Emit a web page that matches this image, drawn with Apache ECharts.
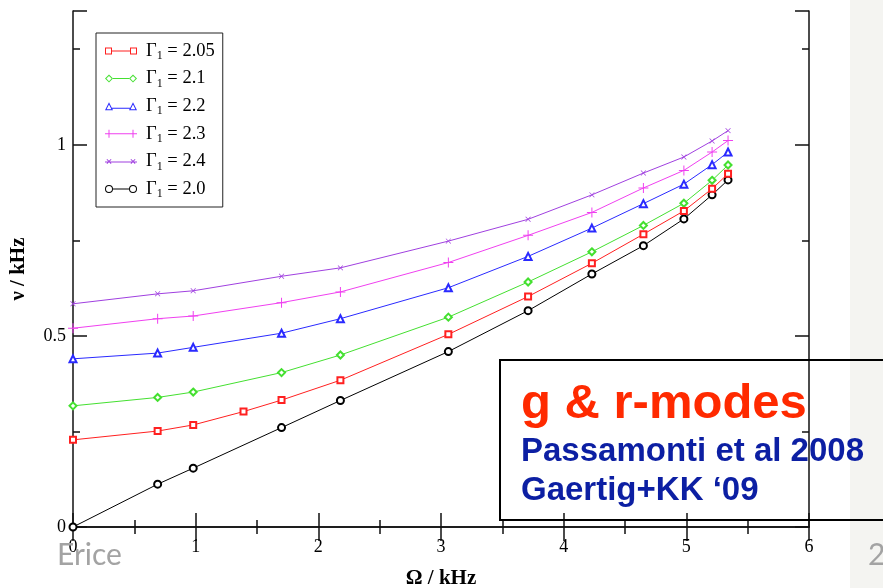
<!DOCTYPE html>
<html><head><meta charset="utf-8">
<script src="https://cdn.jsdelivr.net/npm/echarts@6/dist/echarts.min.js"></script>
<style>html,body{margin:0;padding:0;background:#fff}#c{width:883px;height:588px}</style>
</head><body><div id="c"></div>
<script>
// ---- data ----
const gammaLabels = ['2.05', '2.1', '2.2', '2.3', '2.4', '2.0'];
const omegaMain = [0, 0.69, 0.98, 1.70, 2.18, 3.06, 3.71, 4.23, 4.65, 4.98, 5.21, 5.34];
const omegaRed  = [0, 0.69, 0.98, 1.39, 1.70, 2.18, 3.06, 3.71, 4.23, 4.65, 4.98, 5.21, 5.34];
const nu205 = [0.228, 0.251, 0.267, 0.302, 0.332, 0.384, 0.504, 0.603, 0.690, 0.766, 0.827, 0.885, 0.924];
const nu21  = [0.317, 0.339, 0.353, 0.404, 0.450, 0.549, 0.641, 0.720, 0.789, 0.847, 0.907, 0.947];
const nu22  = [0.440, 0.455, 0.470, 0.507, 0.545, 0.626, 0.708, 0.782, 0.846, 0.897, 0.948, 0.981];
const nu23  = [0.520, 0.545, 0.552, 0.587, 0.615, 0.692, 0.763, 0.823, 0.887, 0.933, 0.981, 1.011];
const nu24  = [0.584, 0.610, 0.618, 0.656, 0.678, 0.748, 0.805, 0.869, 0.926, 0.968, 1.010, 1.037];
const nu20  = [0, 0.112, 0.154, 0.260, 0.331, 0.459, 0.566, 0.662, 0.736, 0.806, 0.869, 0.908];
const xTicks = [0, 1, 2, 3, 4, 5, 6];
const yTickLabels = [0, 0.5, 1];

// ---- styles ----
const colors = ['#ff2020', '#44e030', '#2a2aff', '#f040f0', '#a040e0', '#000000'];
const plusPath = 'path://M0,4.5H10V5.5H0Z M4.5,0H5.5V10H4.5Z';
const seriesSymbols = ['emptyRect', 'emptyDiamond', 'emptyTriangle', plusPath, plusPath, 'emptyCircle'];
const symbolSizes = [6, 7, 7, 10, 7, 7];
const symbolRot = [0, 0, 0, 0, 45, 0];
const legendIcons = [
  'path://M0,0H7V7H0Z M1,1V6H6V1Z M7,3H25V4H7Z M25,0H32V7H25Z M26,1V6H31V1Z',
  'path://M4,0L8,4L4,8L0,4Z M4,1.4L1.4,4L4,6.6L6.6,4Z M8,3.5H24V4.5H8Z M28,0L32,4L28,8L24,4Z M28,1.4L25.4,4L28,6.6L30.6,4Z',
  'path://M4,0L8,8L0,8Z M4,2.3L1.6,7L6.4,7Z M6,5.5H26V6.5H6Z M28,0L32,8L24,8Z M28,2.3L25.6,7L30.4,7Z',
  'path://M0,3.5H32V4.5H0Z M3.5,0H4.5V8H3.5Z M27.5,0H28.5V8H27.5Z',
  'path://M0,3.5H32V4.5H0Z M1.5,1.5L2.2,0.8L6.5,5.1L5.8,5.8Z M5.8,0.8L6.5,1.5L2.2,5.8L1.5,5.1Z M25.5,1.5L26.2,0.8L30.5,5.1L29.8,5.8Z M29.8,0.8L30.5,1.5L26.2,5.8L25.5,5.1Z',
  'path://M0,4A4,4 0 1,1 8,4A4,4 0 1,1 0,4Z M1,4A3,3 0 1,0 7,4A3,3 0 1,0 1,4Z M8,3.5H24V4.5H8Z M24,4A4,4 0 1,1 32,4A4,4 0 1,1 24,4Z M25,4A3,3 0 1,0 31,4A3,3 0 1,0 25,4Z'
];

const xsets = [omegaRed, omegaMain, omegaMain, omegaMain, omegaMain, omegaMain];
const ysets = [nu205, nu21, nu22, nu23, nu24, nu20];
const names = gammaLabels.map(g => 'Γ1 = ' + g);

const serif = '"Liberation Serif", "DejaVu Serif", serif';

const series = names.map((n, i) => ({
  name: n,
  type: 'line',
  xAxisIndex: 0, yAxisIndex: 0,
  data: xsets[i].map((x, k) => [x, ysets[i][k]]),
  symbol: seriesSymbols[i],
  symbolSize: symbolSizes[i],
  symbolRotate: symbolRot[i],
  showAllSymbol: true,
  lineStyle: { color: colors[i], width: 1 },
  itemStyle: { color: colors[i], borderColor: colors[i], borderWidth: (i === 3 || i === 4) ? 0 : 1 },
  emphasis: { disabled: true },
  animation: false,
  z: 10 - i
}));

const axisLineStyle = { color: '#111', width: 1.5 };

const option = {
  animation: false,
  backgroundColor: '#fff',
  grid: { left: 73, top: 11, right: 74, bottom: 61, containLabel: false, outerBoundsMode: 'none' },
  legend: {
    orient: 'vertical', left: 96, top: 33,
    data: names.map((n, i) => ({ name: n, icon: legendIcons[i] })),
    itemWidth: 32, itemHeight: 8, itemGap: 5.6,
    padding: [7, 8, 7, 9],
    borderColor: '#222', borderWidth: 1,
    selectedMode: false,
    itemStyle: { borderWidth: 0 },
    formatter: n => n.replace('Γ1', 'Γ{sub|1}'),
    textStyle: {
      fontFamily: serif, fontSize: 18.5, color: '#000', lineHeight: 22, padding: [0, 0, 0, 4],
      rich: { sub: { fontFamily: serif, fontSize: 12, color: '#000', lineHeight: 11, verticalAlign: 'bottom' } }
    }
  },
  xAxis: [
    {
      type: 'value', min: 0, max: 6, interval: 1, position: 'bottom',
      name: 'Ω / kHz', nameLocation: 'middle', nameGap: 41,
      nameTextStyle: { fontFamily: serif, fontSize: 21, fontWeight: 'bold', color: '#000' },
      axisLine: { show: true, lineStyle: axisLineStyle },
      axisTick: { show: true, inside: true, length: 14, lineStyle: { color: '#111', width: 1.5 } },
      minorTick: { show: true, splitNumber: 2, length: 7, lineStyle: { color: '#111', width: 1.5 } },
      axisLabel: { fontFamily: serif, fontSize: 18, color: '#000', margin: 11,
        formatter: v => xTicks.includes(v) ? String(v) : '' },
      splitLine: { show: false }
    },
    {
      type: 'value', min: 0, max: 6, interval: 1, position: 'top',
      axisLine: { show: true, lineStyle: axisLineStyle },
      axisTick: { show: true, inside: true, length: 14, lineStyle: { color: '#111', width: 1.5 } },
      minorTick: { show: true, splitNumber: 2, length: 7, lineStyle: { color: '#111', width: 1.5 } },
      axisLabel: { show: false },
      splitLine: { show: false }
    }
  ],
  yAxis: [
    {
      type: 'value', min: 0, max: 1.35, interval: 0.5, position: 'left',
      name: 'ν / kHz', nameLocation: 'middle', nameGap: 44, nameRotate: 90,
      nameTextStyle: { fontFamily: serif, fontSize: 21, fontWeight: 'bold', color: '#000' },
      axisLine: { show: true, lineStyle: axisLineStyle },
      axisTick: { show: true, inside: true, length: 14, lineStyle: { color: '#111', width: 1.5 } },
      axisLabel: { fontFamily: serif, fontSize: 18, color: '#000', margin: 7,
        formatter: v => yTickLabels.includes(Math.round(v * 100) / 100) ? String(Math.round(v * 100) / 100) : '' },
      splitLine: { show: false }
    },
    {
      type: 'value', min: 0, max: 1.35, interval: 0.25, position: 'left',
      axisLine: { show: false },
      axisTick: { show: true, inside: true, length: 7, lineStyle: { color: '#111', width: 1.5 } },
      axisLabel: { show: false },
      splitLine: { show: false }
    },
    {
      type: 'value', min: 0, max: 1.35, interval: 0.5, position: 'right',
      axisLine: { show: true, lineStyle: axisLineStyle },
      axisTick: { show: true, inside: true, length: 14, lineStyle: { color: '#111', width: 1.5 } },
      axisLabel: { show: false },
      splitLine: { show: false }
    },
    {
      type: 'value', min: 0, max: 1.35, interval: 0.25, position: 'right',
      axisLine: { show: false },
      axisTick: { show: true, inside: true, length: 7, lineStyle: { color: '#111', width: 1.5 } },
      axisLabel: { show: false },
      splitLine: { show: false }
    }
  ],
  series: series,
  graphic: [
    { type: 'rect', shape: { x: 850, y: 0, width: 40, height: 588 }, style: { fill: '#f4f4f1' }, z: 1 },
    { type: 'rect', shape: { x: 500, y: 360, width: 400, height: 160 }, style: { fill: 'none', stroke: '#000', lineWidth: 2 }, z: 50 },
    { type: 'text', x: 521, y: 404, z: 60, style: { text: 'g & r-modes', font: 'bold 49px "Liberation Sans", Arial, sans-serif', fill: '#ff2a00', textVerticalAlign: 'middle' } },
    { type: 'text', x: 521, y: 452, z: 60, style: { text: 'Passamonti et al 2008', font: 'bold 33px "Liberation Sans", Arial, sans-serif', fill: '#0c1fa3', textVerticalAlign: 'middle' } },
    { type: 'text', x: 521, y: 491, z: 60, style: { text: 'Gaertig+KK ‘09', font: 'bold 33px "Liberation Sans", Arial, sans-serif', fill: '#0c1fa3', textVerticalAlign: 'middle' } },
    { type: 'text', x: 57, y: 555, z: 60, style: { text: 'Erice', font: '30px Lato, "Open Sans", sans-serif', fill: '#a3a3a3', textVerticalAlign: 'middle' } },
    { type: 'text', x: 868, y: 555, z: 60, style: { text: '2', font: '30px Lato, "Open Sans", sans-serif', fill: '#a3a3a3', textVerticalAlign: 'middle' } }
  ]
};

const chart = echarts.init(document.getElementById('c'), null, { renderer: 'canvas' });
chart.setOption(option);
</script>
</body></html>
